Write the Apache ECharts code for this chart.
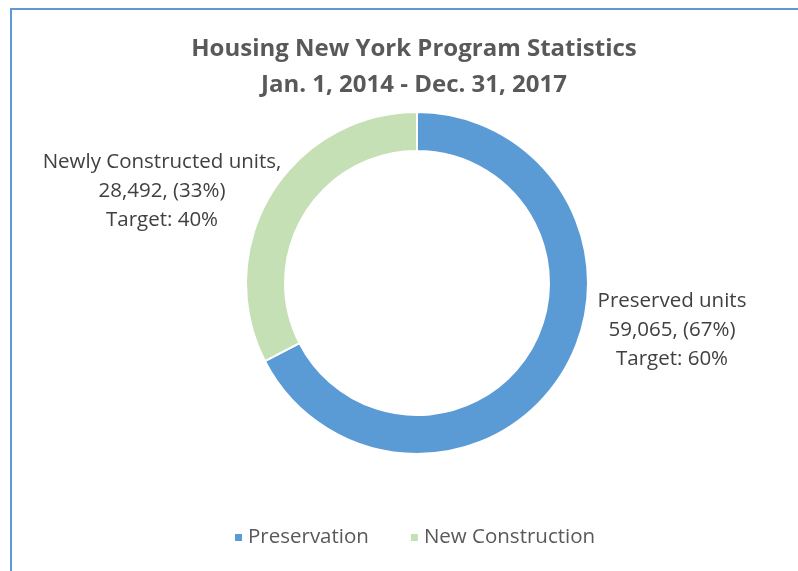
<!DOCTYPE html>
<html>
<head>
<meta charset="utf-8">
<script src="https://cdn.jsdelivr.net/npm/echarts@6/dist/echarts.min.js"></script>
<style>
  html, body { margin: 0; padding: 0; background: #fff; }
  #chart { position: absolute; left: 0; top: 0; width: 798px; height: 571px; }
  .frame {
    position: absolute; left: 10px; top: 8px; width: 800px; height: 600px;
    border-left: 2px solid #5b9bd5; border-top: 2px solid #5b9bd5;
  }
</style>
</head>
<body>
<div class="frame"></div>
<div id="chart"></div>
<script>
const categories = ['Preservation', 'New Construction']
const units = [59065, 28492]
const labelNames = ['Preserved units', 'Newly Constructed units,']
const targets = ['60%', '40%']
const colors = ['#5b9bd5', '#c5e0b4']

// label anchor points (label centres)
const labelPos = [[672, 330], [162, 191]]

const total = units.reduce((a, b) => a + b, 0)

const chart = echarts.init(document.getElementById('chart'), null, { renderer: 'canvas' })

chart.setOption({
  animation: false,
  title: {
    text: 'Housing New York Program Statistics\nJan. 1, 2014 - Dec. 31, 2017',
    left: 409,
    top: 26,
    textAlign: 'center',
    textStyle: {
      fontFamily: 'Open Sans',
      fontSize: 24,
      fontWeight: 'bold',
      color: '#595959',
      lineHeight: 36
    }
  },
  legend: {
    bottom: 18,
    left: 228,
    itemWidth: 9,
    itemHeight: 9,
    itemGap: 40,
    icon: 'rect',
    textStyle: { fontFamily: 'Open Sans', fontSize: 20.5, color: '#595959' },
    data: categories
  },
  series: [{
    type: 'pie',
    center: [417, 283],
    radius: [132, 171],
    startAngle: 90,
    clockwise: true,
    itemStyle: { borderColor: '#fff', borderWidth: 2 },
    label: {
      show: true,
      position: 'outside',
      overflow: 'none',
      width: 300,
      fontFamily: 'Open Sans',
      fontSize: 20.5,
      lineHeight: 29,
      color: '#404040',
      align: 'center',
      formatter: p => {
        const pct = Math.round(p.value / total * 100)
        return labelNames[p.dataIndex] + '\n' + p.value.toLocaleString('en-US') +
          ', (' + pct + '%)\nTarget: ' + targets[p.dataIndex]
      }
    },
    labelLine: { show: false },
    labelLayout: p => ({
      x: labelPos[p.dataIndex][0],
      y: labelPos[p.dataIndex][1],
      align: 'center',
      verticalAlign: 'middle'
    }),
    emphasis: { disabled: true },
    data: categories.map((name, i) => ({
      name,
      value: units[i],
      itemStyle: { color: colors[i] }
    }))
  }]
})
</script>
</body>
</html>
